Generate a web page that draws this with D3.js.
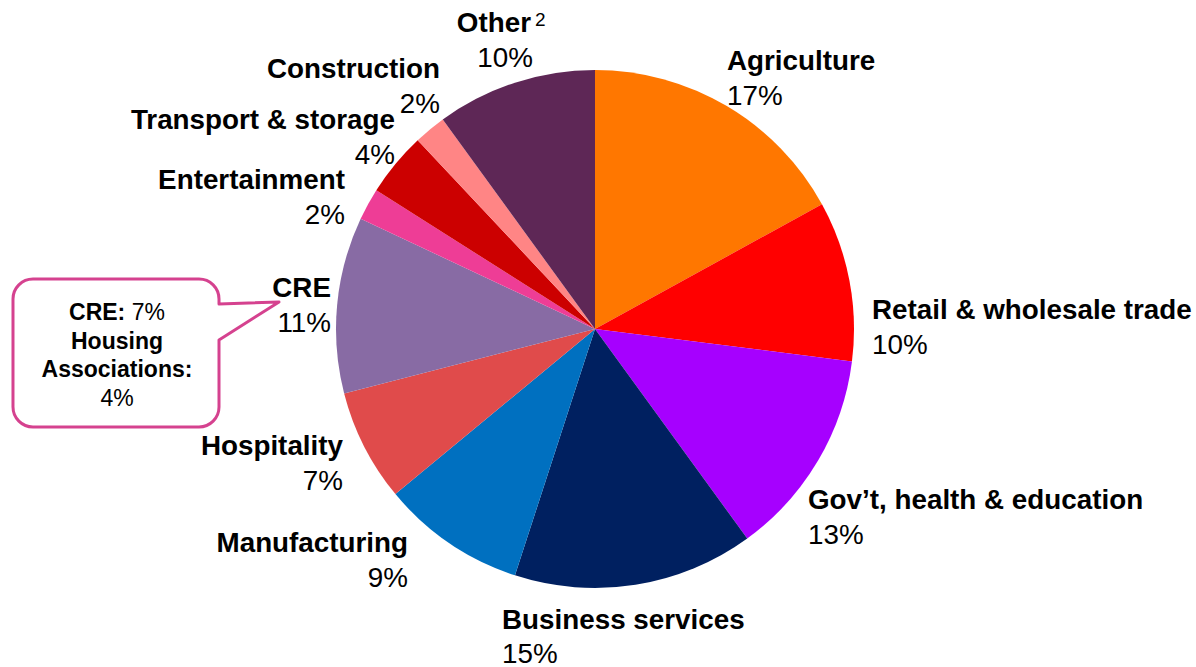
<!DOCTYPE html>
<html>
<head>
<meta charset="utf-8">
<script src="https://cdn.jsdelivr.net/npm/d3@7"></script>
<style>
  html, body { margin: 0; padding: 0; background: #fff; }
  svg { display: block; font-family: "Liberation Sans", Arial, sans-serif; }
</style>
</head>
<body>
<svg id="chart" width="1196" height="667"></svg>
<script>
// ---- data ----
const categories = ["Agriculture", "Retail & wholesale trade", "Gov\u2019t, health & education",
  "Business services", "Manufacturing", "Hospitality", "CRE", "Entertainment",
  "Transport & storage", "Construction", "Other"];
const shares = [17, 10, 13, 15, 9, 7, 11, 2, 4, 2, 10];
const colors = ["#FF7700", "#FF0000", "#A600FF", "#002060", "#0070C0", "#E04B4B",
  "#886BA4", "#EE3D96", "#CC0000", "#FF8585", "#5E2756"];
const calloutLines = [["CRE:", " 7%"], ["Housing", ""], ["Associations:", ""], ["", "4%"]];

// ---- layout ----
const svg = d3.select("#chart");
const cx = 595, cy = 329, r = 259;
const fontSize = 27.8, lineGap = 35;

// label layout (anchor, x, first baseline)
const labelLayout = {
  "Agriculture": ["start", 727, 70],
  "Retail & wholesale trade": ["start", 872, 319],
  "Gov\u2019t, health & education": ["start", 808, 509],
  "Business services": ["start", 502, 629],
  "Manufacturing": ["end", 408, 552],
  "Hospitality": ["end", 343, 455],
  "CRE": ["end", 331, 297],
  "Entertainment": ["end", 345, 189],
  "Transport & storage": ["end", 395, 129],
  "Construction": ["end", 440, 78],
  "Other": ["end", 531, 32]
};

const data = categories.map((c, i) => ({ name: c, value: shares[i], color: colors[i] }));
const pie = d3.pie().value(d => d.value).sort(null);
const arc = d3.arc().innerRadius(0).outerRadius(r);

const g = svg.append("g").attr("transform", `translate(${cx},${cy})`);
g.selectAll("path").data(pie(data)).join("path")
  .attr("d", arc)
  .attr("fill", d => d.data.color);

// labels
const labels = svg.append("g");
data.forEach(d => {
  const [anchor, x, y] = labelLayout[d.name];
  labels.append("text")
    .attr("x", x).attr("y", y)
    .attr("text-anchor", anchor)
    .attr("font-size", fontSize)
    .attr("font-weight", "bold")
    .attr("fill", "#000")
    .text(d.name);
  let pctX = x;
  if (d.name === "Other") {
    labels.append("text")
      .attr("x", x + 4).attr("y", y - 6)
      .attr("font-size", 19)
      .attr("fill", "#000")
      .text("2");
    pctX = x + 2;
  }
  labels.append("text")
    .attr("x", pctX).attr("y", y + (d.name === "Business services" ? 33.5 : lineGap))
    .attr("text-anchor", anchor)
    .attr("font-size", fontSize)
    .attr("fill", "#000")
    .text(d.value + "%");
});

// callout
const bx = 13, by = 279, bw = 206, bh = 148, br = 20;
const tip = [279, 302], p1 = [bx + bw, 304], p2 = [bx + bw, 340];
const path = d3.path();
path.moveTo(bx + br, by);
path.lineTo(bx + bw - br, by);
path.arcTo(bx + bw, by, bx + bw, by + br, br);
path.lineTo(p1[0], p1[1]);
path.lineTo(tip[0], tip[1]);
path.lineTo(p2[0], p2[1]);
path.lineTo(bx + bw, by + bh - br);
path.arcTo(bx + bw, by + bh, bx + bw - br, by + bh, br);
path.lineTo(bx + br, by + bh);
path.arcTo(bx, by + bh, bx, by + bh - br, br);
path.lineTo(bx, by + br);
path.arcTo(bx, by, bx + br, by, br);
path.closePath();
svg.append("path").attr("d", path.toString())
  .attr("fill", "#fff").attr("stroke", "#D5428F").attr("stroke-width", 3)
  .attr("stroke-linejoin", "round");

const ct = svg.append("g");
calloutLines.forEach((ln, i) => {
  const t = ct.append("text")
    .attr("x", bx + bw / 2 + 1).attr("y", 320 + i * 28.7)
    .attr("text-anchor", "middle")
    .attr("font-size", 23)
    .attr("fill", "#000");
  if (ln[0]) t.append("tspan").attr("font-weight", "bold").text(ln[0]);
  if (ln[1]) t.append("tspan").text(ln[1]);
});
</script>
</body>
</html>
